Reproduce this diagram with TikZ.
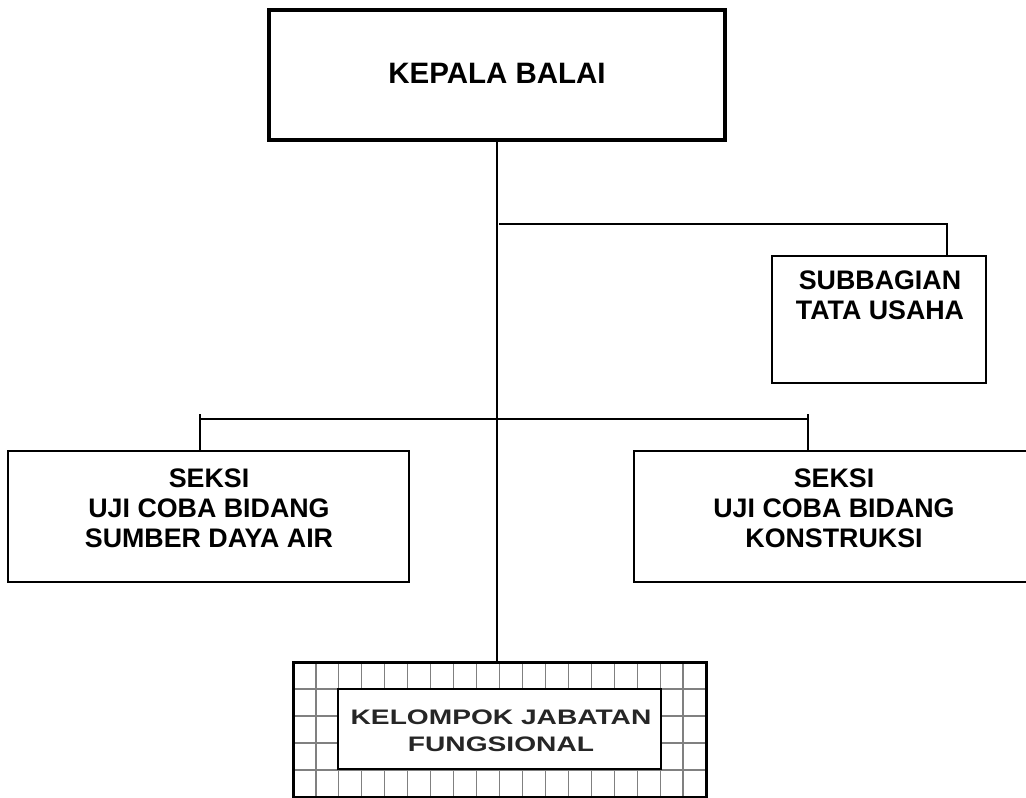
\documentclass[tikz,border=0pt]{standalone}
\usepackage{fontspec}
\usepackage{graphicx}
\setmainfont{Liberation Sans}
\usetikzlibrary{calc}
\begin{document}
\begin{tikzpicture}[x=1pt,y=-1pt,
  box/.style={draw=black, line width=2pt, fill=white, inner sep=0pt},
  lbl/.style={align=center, font=\fontsize{26.8}{30}\selectfont\bfseries, inner sep=0pt},
  conn/.style={line width=2pt},
  gridline/.style={draw=black!50, line width=1.2pt},
  kbox/.style={draw=black, line width=3pt, fill=white, inner sep=0pt,
    minimum width=413pt, minimum height=135pt,
    path picture={
      \foreach \k in {1,...,17}{
        \draw[gridline] ($(path picture bounding box.north west)!\k/18!(path picture bounding box.north east)$) --
                        ($(path picture bounding box.south west)!\k/18!(path picture bounding box.south east)$);}
      \foreach \k in {1,...,4}{
        \draw[gridline] ($(path picture bounding box.north west)!\k/5!(path picture bounding box.south west)$) --
                        ($(path picture bounding box.north east)!\k/5!(path picture bounding box.south east)$);}
    }},
  ktext/.style={align=center, font=\fontsize{21}{27}\selectfont\bfseries, text=black!85, inner sep=0pt}]
\useasboundingbox (0,0) rectangle (1026,798);
\clip (0,0) rectangle (1026,798);

% boxes
\node[box, line width=4pt, minimum width=456pt, minimum height=130pt] (top) at (497,75) {};
\node[lbl, font=\fontsize{29.5}{34}\selectfont\bfseries] (toptext) at (497,73) {KEPALA BALAI};

\node[box, minimum width=214pt, minimum height=127pt] (sub) at (879,319.5) {};
\node[lbl] (subtext) at (880,295) {SUBBAGIAN\\TATA USAHA};

\node[box, minimum width=401pt, minimum height=131pt] (lbox) at (208.5,516.5) {};
\node[lbl] (ltext) at (209,508) {SEKSI\\UJI COBA BIDANG\\SUMBER DAYA AIR};

\node[box, minimum width=400pt, minimum height=131pt] (rbox) at (834,516.5) {};
\node[lbl] (rtext) at (834,508) {SEKSI\\UJI COBA BIDANG\\KONSTRUKSI};

\node[kbox] (kbox) at (499.5,729.5) {};
\node[box, line width=2.5pt, minimum width=323pt, minimum height=80pt] (kinner) at (499.5,729) {};
\node[ktext] (ktxt) at (501,731) {\scalebox{1.34}[1]{KELOMPOK JABATAN}\\\scalebox{1.34}[1]{FUNGSIONAL}};

% connectors
\draw[conn] (top.south) -- (top.south |- kbox.north);

\coordinate (brS) at (499,224);
\coordinate (subc) at (947,224);
\draw[conn] (brS) -- (subc) -- (subc |- sub.north);

\coordinate (barL) at (200,419);
\coordinate (barR) at (808,419);
\draw[conn] (barL) -- (barR);
\coordinate (tickL) at (200,414);
\coordinate (tickR) at (808,414);
\draw[conn] (tickL) -- (tickL |- lbox.north);
\draw[conn] (tickR) -- (tickR |- rbox.north);
\end{tikzpicture}
\end{document}
